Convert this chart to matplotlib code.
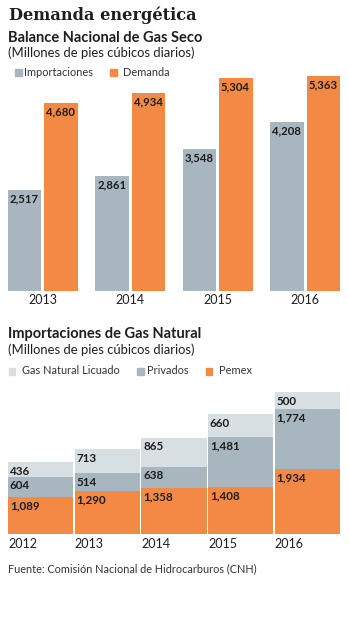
import matplotlib.pyplot as plt
import numpy as np

# ============================================
# DATA
# ============================================
years_balance = ["2013", "2014", "2015", "2016"]
importaciones = [2517, 2861, 3548, 4208]
demanda = [4680, 4934, 5304, 5363]

years_imports = ["2012", "2013", "2014", "2015", "2016"]
pemex = [1089, 1290, 1358, 1408, 1934]
privados = [604, 514, 638, 1481, 1774]
gnl = [436, 713, 865, 660, 500]

# ============================================
# STYLE
# ============================================
GRAY = "#a8b6bf"
ORANGE = "#f28944"
LIGHT = "#d7dfe3"
TEXT = "#1e1e1e"
SANS = ["Lato", "DejaVu Sans"]
SERIF = ["DejaVu Serif"]

W, H = 349, 620
plt.rcParams["font.family"] = SANS

fig = plt.figure(figsize=(W / 100, H / 100), dpi=100)


def px_axes(left, top, right, bottom):
    """Axes placed by pixel edges (origin top-left)"""
    return fig.add_axes([left / W, 1 - bottom / H, (right - left) / W, (bottom - top) / H])


def px_text(x, y, s, **kw):
    kw.setdefault("color", TEXT)
    kw.setdefault("va", "center")
    fig.text(x / W, 1 - y / H, s, **kw)


def legend_row(y, items):
    for sx, tx, color, label in items:
        fig.patches.append(plt.Rectangle((sx / W, 1 - (y + 3.5) / H), 6.5 / W, 7 / H,
                                         transform=fig.transFigure, color=color))
        px_text(tx, y, label, fontsize=7.9, color="#333333")


def clean(ax):
    for s in ax.spines.values():
        s.set_visible(False)
    ax.set_xticks([])
    ax.set_yticks([])
    ax.patch.set_alpha(0)


def label_bar(ax, x, top, value, size):
    ax.annotate(f"{value:,}", xy=(x, top), xytext=(2, -9), textcoords="offset pixels",
                ha="left", va="center", fontsize=size, fontweight="bold", color=TEXT)


# ============================================
# HEADERS
# ============================================
px_text(9, 15.5, "Demanda energética", fontsize=11.7, fontweight="bold", family=SERIF)
px_text(8, 38, "Balance Nacional de Gas Seco", fontsize=10.5, fontweight="bold")
px_text(8, 53, "(Millones de pies cúbicos diarios)", fontsize=9.4)
legend_row(72.5, [(15, 24, GRAY, "Importaciones"), (110, 122.5, ORANGE, "Demanda")])

# ============================================
# TOP CHART: gas seco balance
# ============================================
ax1 = px_axes(8, 70.5, 340, 290.5)
x = np.arange(len(years_balance))
bw, off = 0.383, 0.206
ax1.bar(x - off, importaciones, bw, color=GRAY)
ax1.bar(x + off, demanda, bw, color=ORANGE)
for i in range(len(x)):
    label_bar(ax1, x[i] - off - bw / 2, importaciones[i], importaciones[i], 8.2)
    label_bar(ax1, x[i] + off - bw / 2, demanda[i], demanda[i], 8.2)
ax1.set_xlim(-0.397, len(x) - 1 + 0.397)
ax1.set_ylim(0, 5500)
clean(ax1)
for i, yr in enumerate(years_balance):
    ax1.annotate(yr, xy=(x[i], 0), xytext=(0, -10), textcoords="offset pixels",
                 ha="center", va="center", fontsize=9, color=TEXT, annotation_clip=False)

# ============================================
# BOTTOM CHART: natural gas imports
# ============================================
px_text(8, 334, "Importaciones de Gas Natural", fontsize=10.5, fontweight="bold")
px_text(8, 350, "(Millones de pies cúbicos diarios)", fontsize=9.4)
legend_row(371, [(8.5, 22.5, LIGHT, "Gas Natural Licuado"), (137, 147.5, GRAY, "Privados"),
                 (205.5, 219, ORANGE, "Pemex")])

ax2 = px_axes(8, 384, 340, 534)
x2 = np.arange(len(years_imports))
bw2 = 0.98
base2 = np.array(pemex) + np.array(privados)
ax2.bar(x2, pemex, bw2, color=ORANGE)
ax2.bar(x2, privados, bw2, bottom=pemex, color=GRAY)
ax2.bar(x2, gnl, bw2, bottom=base2, color=LIGHT)
for i in range(len(x2)):
    left = x2[i] - bw2 / 2
    label_bar(ax2, left, pemex[i], pemex[i], 8.4)
    label_bar(ax2, left, base2[i], privados[i], 8.4)
    label_bar(ax2, left, base2[i] + gnl[i], gnl[i], 8.4)
    ax2.annotate(years_imports[i], xy=(left, 0), xytext=(0, -10), textcoords="offset pixels",
                 ha="left", va="center", fontsize=9, color=TEXT, annotation_clip=False)
ax2.set_xlim(-0.49, len(x2) - 1 + 0.49)
ax2.set_ylim(0, 4450)
clean(ax2)

px_text(8, 569, "Fuente: Comisión Nacional de Hidrocarburos (CNH)", fontsize=7.8, color="#333333")

fig.savefig("out.png", dpi=100)
